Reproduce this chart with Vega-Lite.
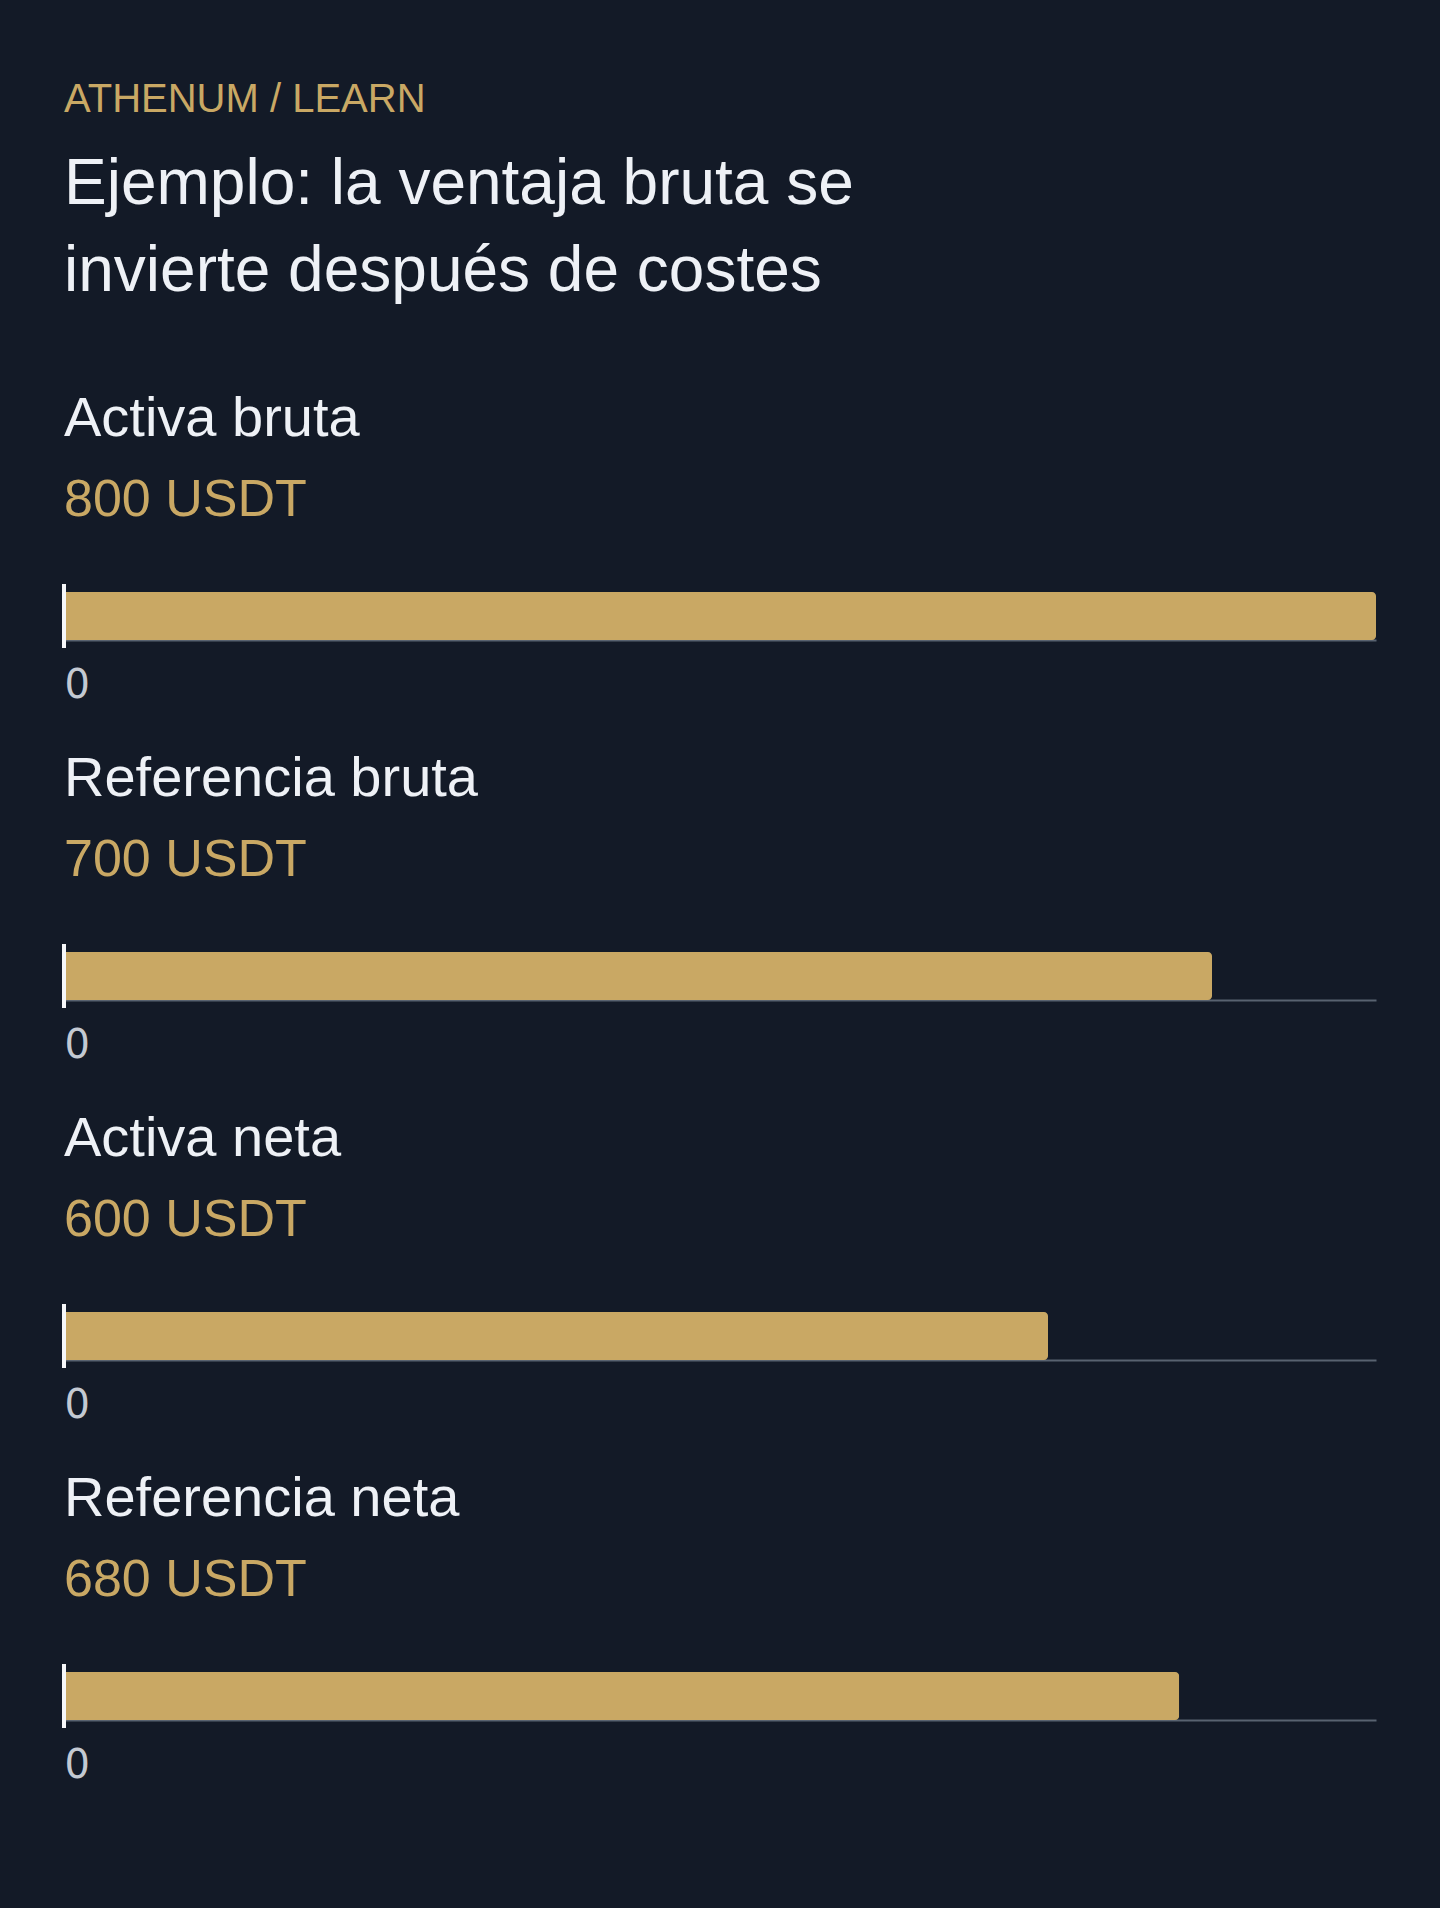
{
  "$schema": "https://vega.github.io/schema/vega-lite/v6.json",
  "background": "#131a27",
  "padding": {"left": 62, "right": 66, "top": 80, "bottom": 124},
  "title": {
    "text": "ATHENUM / LEARN",
    "subtitle": ["Ejemplo: la ventaja bruta se", "invierte después de costes"],
    "anchor": "start",
    "font": "Liberation Sans",
    "fontSize": 40,
    "fontWeight": "normal",
    "color": "#c9a864",
    "subtitleFont": "Liberation Sans",
    "subtitleFontSize": 64,
    "subtitleColor": "#eef1f6",
    "subtitleLineHeight": 87,
    "subtitlePadding": 33,
    "offset": 87
  },
  "datasets": {
    "rows": [
      {"label": "Activa bruta", "value": 800},
      {"label": "Referencia bruta", "value": 700},
      {"label": "Activa neta", "value": 600},
      {"label": "Referencia neta", "value": 680}
    ]
  },
  "spacing": 46,
  "vconcat": [
    {
      "title": {"text": "Activa bruta", "subtitle": "800 USDT"},
      "width": 1312,
      "height": 48,
      "data": {"name": "rows"},
      "transform": [{"filter": "datum.label === 'Activa bruta'"}],
      "layer": [
        {
          "mark": {"type": "bar", "color": "#c9a864", "cornerRadiusEnd": 4, "height": 48},
          "encoding": {
            "x": {"field": "value", "type": "quantitative", "scale": {"domain": [0, 800], "nice": false}, "axis": {"values": [0], "title": null}}
          }
        },
        {
          "mark": {"type": "tick", "orient": "vertical", "color": "#f6f7f9", "opacity": 1, "thickness": 4, "size": 64},
          "encoding": {"x": {"datum": 0, "type": "quantitative"}}
        }
      ]
    },
    {
      "title": {"text": "Referencia bruta", "subtitle": "700 USDT"},
      "width": 1312,
      "height": 48,
      "data": {"name": "rows"},
      "transform": [{"filter": "datum.label === 'Referencia bruta'"}],
      "layer": [
        {
          "mark": {"type": "bar", "color": "#c9a864", "cornerRadiusEnd": 4, "height": 48},
          "encoding": {
            "x": {"field": "value", "type": "quantitative", "scale": {"domain": [0, 800], "nice": false}, "axis": {"values": [0], "title": null}}
          }
        },
        {
          "mark": {"type": "tick", "orient": "vertical", "color": "#f6f7f9", "opacity": 1, "thickness": 4, "size": 64},
          "encoding": {"x": {"datum": 0, "type": "quantitative"}}
        }
      ]
    },
    {
      "title": {"text": "Activa neta", "subtitle": "600 USDT"},
      "width": 1312,
      "height": 48,
      "data": {"name": "rows"},
      "transform": [{"filter": "datum.label === 'Activa neta'"}],
      "layer": [
        {
          "mark": {"type": "bar", "color": "#c9a864", "cornerRadiusEnd": 4, "height": 48},
          "encoding": {
            "x": {"field": "value", "type": "quantitative", "scale": {"domain": [0, 800], "nice": false}, "axis": {"values": [0], "title": null}}
          }
        },
        {
          "mark": {"type": "tick", "orient": "vertical", "color": "#f6f7f9", "opacity": 1, "thickness": 4, "size": 64},
          "encoding": {"x": {"datum": 0, "type": "quantitative"}}
        }
      ]
    },
    {
      "title": {"text": "Referencia neta", "subtitle": "680 USDT"},
      "width": 1312,
      "height": 48,
      "data": {"name": "rows"},
      "transform": [{"filter": "datum.label === 'Referencia neta'"}],
      "layer": [
        {
          "mark": {"type": "bar", "color": "#c9a864", "cornerRadiusEnd": 4, "height": 48},
          "encoding": {
            "x": {"field": "value", "type": "quantitative", "scale": {"domain": [0, 800], "nice": false}, "axis": {"values": [0], "title": null}}
          }
        },
        {
          "mark": {"type": "tick", "orient": "vertical", "color": "#f6f7f9", "opacity": 1, "thickness": 4, "size": 64},
          "encoding": {"x": {"datum": 0, "type": "quantitative"}}
        }
      ]
    }
  ],
  "config": {
    "view": {"stroke": null},
    "title": {
      "anchor": "start",
      "frame": "group",
      "font": "Liberation Sans",
      "fontSize": 56,
      "fontWeight": "normal",
      "color": "#eef1f6",
      "subtitleFont": "Liberation Sans",
      "subtitleFontSize": 52,
      "subtitleColor": "#c9a864",
      "subtitlePadding": 27,
      "offset": 57
    },
    "axis": {
      "grid": false,
      "ticks": false,
      "domainColor": "#586270",
      "domainWidth": 2,
      "labelFont": "DejaVu Sans",
      "labelFontSize": 40,
      "labelColor": "#c3c9d2",
      "labelAlign": "left",
      "labelPadding": 25
    }
  }
}
